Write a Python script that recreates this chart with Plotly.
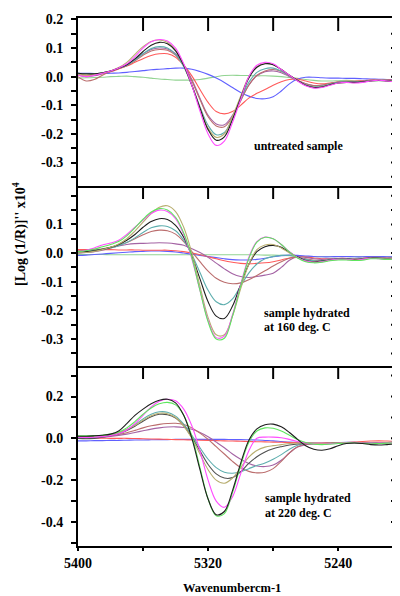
import plotly.graph_objects as go

# ---------------- data ----------------
WAVENUMBER = [5400, 5395, 5390, 5385, 5380, 5375, 5370, 5365, 5360, 5355, 5350, 5345, 5340,
              5335, 5330, 5325, 5320, 5315, 5310, 5305, 5300, 5295, 5290, 5285, 5280, 5275,
              5270, 5265, 5260, 5255, 5250, 5245, 5240, 5235, 5230, 5225, 5220, 5215, 5210,
              5205, 5200]

# Panel 1: untreated sample
P1_MAGENTA = [0.005, 0.0, 0.005, 0.012, 0.02, 0.03, 0.045, 0.07, 0.1, 0.122, 0.13, 0.125, 0.1,
              0.045, -0.03, -0.12, -0.2, -0.24, -0.225, -0.16, -0.08, 0.0, 0.04, 0.05, 0.045, 0.025,
              0.005, -0.015, -0.032, -0.04, -0.038, -0.03, -0.022, -0.02, -0.022, -0.02, -0.015,
              -0.012, -0.015, -0.018, -0.02]
P1_BLACK = [0.012, 0.01, 0.01, 0.014, 0.02, 0.03, 0.042, 0.062, 0.088, 0.11, 0.12, 0.115, 0.09,
            0.04, -0.03, -0.11, -0.185, -0.222, -0.21, -0.15, -0.075, -0.005, 0.033, 0.045, 0.042,
            0.025, 0.005, -0.013, -0.03, -0.038, -0.036, -0.028, -0.022, -0.02, -0.02, -0.018,
            -0.015, -0.013, -0.015, -0.017, -0.018]
P1_OLIVE = [0.008, 0.006, 0.008, 0.013, 0.02, 0.032, 0.05, 0.078, 0.105, 0.123, 0.128, 0.12, 0.093,
            0.04, -0.03, -0.11, -0.18, -0.212, -0.2, -0.14, -0.068, 0.0, 0.035, 0.046, 0.042, 0.025,
            0.005, -0.014, -0.03, -0.037, -0.035, -0.028, -0.022, -0.02, -0.021, -0.018, -0.014,
            -0.012, -0.014, -0.016, -0.017]
P1_TEAL = [0.012, 0.01, 0.01, 0.014, 0.02, 0.03, 0.04, 0.058, 0.08, 0.098, 0.105, 0.1, 0.078,
           0.035, -0.03, -0.105, -0.17, -0.203, -0.195, -0.145, -0.08, -0.02, 0.015, 0.028, 0.03,
           0.02, 0.003, -0.014, -0.028, -0.035, -0.033, -0.026, -0.02, -0.018, -0.019, -0.017,
           -0.014, -0.012, -0.013, -0.015, -0.016]
P1_MAROON = [0.0, -0.015, -0.01, 0.005, 0.018, 0.028, 0.038, 0.055, 0.075, 0.09, 0.095, 0.092,
             0.075, 0.038, -0.015, -0.08, -0.14, -0.172, -0.175, -0.14, -0.085, -0.03, 0.005, 0.02,
             0.025, 0.018, 0.003, -0.012, -0.025, -0.032, -0.03, -0.024, -0.02, -0.018, -0.019,
             -0.016, -0.013, -0.011, -0.012, -0.014, -0.015]
P1_PURPLE = [0.005, 0.0, 0.003, 0.01, 0.018, 0.03, 0.042, 0.06, 0.08, 0.095, 0.1, 0.097, 0.08,
             0.042, -0.01, -0.075, -0.135, -0.165, -0.168, -0.135, -0.082, -0.03, 0.003, 0.017,
             0.02, 0.014, 0.0, -0.013, -0.025, -0.031, -0.03, -0.024, -0.019, -0.017, -0.018,
             -0.016, -0.013, -0.011, -0.012, -0.014, -0.015]
P1_RED = [0.008, 0.005, 0.006, 0.01, 0.017, 0.027, 0.037, 0.05, 0.063, 0.074, 0.08, 0.08, 0.068,
          0.04, 0.003, -0.045, -0.09, -0.122, -0.13, -0.122, -0.1, -0.075, -0.058, -0.045, -0.03,
          -0.018, -0.01, -0.008, -0.015, -0.022, -0.025, -0.022, -0.018, -0.016, -0.016, -0.014,
          -0.012, -0.01, -0.011, -0.013, -0.014]
P1_BLUE = [0.012, 0.012, 0.011, 0.011, 0.012, 0.013, 0.015, 0.018, 0.021, 0.024, 0.026, 0.028,
           0.03, 0.03, 0.026, 0.018, 0.008, -0.005, -0.02, -0.038, -0.055, -0.068, -0.076, -0.077,
           -0.07, -0.05, -0.025, -0.008, -0.002, -0.002, -0.004, -0.005, -0.005, -0.006, -0.006,
           -0.007, -0.008, -0.009, -0.01, -0.011, -0.012]
P1_GREEN = [-0.005, -0.004, -0.003, -0.002, 0.0, 0.001, 0.002, 0.0, -0.002, -0.005, -0.008, -0.01,
            -0.012, -0.012, -0.012, -0.01, -0.005, 0.0, 0.004, 0.005, 0.004, 0.004, 0.003, 0.003,
            0.002, 0.0, -0.003, -0.006, -0.01, -0.013, -0.015, -0.015, -0.014, -0.013, -0.014,
            -0.015, -0.015, -0.014, -0.015, -0.017, -0.018]

# Panel 2: sample hydrated at 160 deg. C
P2_MAGENTA = [0.005, 0.01, 0.018, 0.028, 0.035, 0.045, 0.065, 0.09, 0.115, 0.138, 0.15, 0.145,
              0.12, 0.065, -0.02, -0.13, -0.235, -0.295, -0.29, -0.215, -0.11, -0.015, 0.04, 0.056,
              0.05, 0.03, 0.005, -0.015, -0.028, -0.032, -0.03, -0.025, -0.022, -0.022, -0.025,
              -0.022, -0.018, -0.02, -0.022, -0.02, -0.018]
P2_LIME = [0.005, 0.008, 0.014, 0.022, 0.03, 0.04, 0.06, 0.088, 0.118, 0.143, 0.155, 0.15, 0.125,
           0.07, -0.015, -0.13, -0.24, -0.3, -0.297, -0.22, -0.115, -0.02, 0.038, 0.055, 0.05, 0.03,
           0.004, -0.017, -0.03, -0.034, -0.032, -0.027, -0.024, -0.024, -0.026, -0.025, -0.02,
           -0.02, -0.022, -0.02, -0.018]
P2_OLIVE = [0.0, 0.002, 0.006, 0.012, 0.02, 0.032, 0.05, 0.077, 0.108, 0.138, 0.16, 0.165, 0.145,
            0.09, 0.0, -0.115, -0.225, -0.285, -0.285, -0.22, -0.125, -0.04, 0.012, 0.028, 0.03,
            0.018, 0.0, -0.016, -0.028, -0.032, -0.03, -0.025, -0.022, -0.022, -0.024, -0.022,
            -0.018, -0.019, -0.021, -0.019, -0.017]
P2_BLACK = [0.005, 0.005, 0.008, 0.013, 0.02, 0.03, 0.045, 0.065, 0.09, 0.11, 0.12, 0.117, 0.097,
            0.055, -0.01, -0.09, -0.17, -0.22, -0.228, -0.185, -0.11, -0.04, 0.005, 0.022, 0.027,
            0.02, 0.003, -0.014, -0.026, -0.03, -0.028, -0.024, -0.021, -0.021, -0.023, -0.021,
            -0.017, -0.018, -0.02, -0.018, -0.016]
P2_TEAL = [0.005, 0.006, 0.009, 0.013, 0.018, 0.026, 0.037, 0.053, 0.072, 0.088, 0.095, 0.093,
           0.078, 0.045, -0.005, -0.068, -0.13, -0.17, -0.18, -0.16, -0.115, -0.07, -0.038, -0.02,
           -0.012, -0.008, -0.008, -0.014, -0.022, -0.027, -0.027, -0.023, -0.02, -0.02, -0.022,
           -0.02, -0.017, -0.017, -0.019, -0.018, -0.016]
P2_MAROON = [0.008, 0.01, 0.012, 0.015, 0.02, 0.027, 0.037, 0.05, 0.064, 0.075, 0.08, 0.078, 0.066,
             0.04, 0.005, -0.03, -0.063, -0.088, -0.102, -0.107, -0.104, -0.093, -0.078, -0.062,
             -0.045, -0.03, -0.018, -0.015, -0.02, -0.025, -0.026, -0.023, -0.02, -0.02, -0.021,
             -0.019, -0.016, -0.016, -0.018, -0.017, -0.015]
P2_PURPLE = [0.0, 0.002, 0.005, 0.01, 0.018, 0.025, 0.03, 0.033, 0.034, 0.035, 0.036, 0.035, 0.032,
             0.027, 0.015, 0.002, -0.015, -0.035, -0.055, -0.072, -0.082, -0.085, -0.082, -0.077,
             -0.07, -0.05, -0.025, -0.012, -0.015, -0.02, -0.022, -0.02, -0.018, -0.018, -0.02,
             -0.018, -0.015, -0.015, -0.017, -0.016, -0.014]
P2_RED = [0.012, 0.012, 0.012, 0.012, 0.012, 0.011, 0.011, 0.011, 0.01, 0.01, 0.01, 0.01, 0.008,
          0.005, 0.0, -0.006, -0.013, -0.02, -0.027, -0.032, -0.036, -0.037, -0.036, -0.034, -0.03,
          -0.024, -0.017, -0.013, -0.014, -0.017, -0.02, -0.02, -0.02, -0.02, -0.021, -0.02,
          -0.018, -0.017, -0.018, -0.017, -0.016]
P2_BLUE = [-0.008, -0.007, -0.005, -0.003, -0.001, 0.001, 0.003, 0.005, 0.006, 0.007, 0.007, 0.006,
           0.004, 0.0, -0.004, -0.008, -0.012, -0.016, -0.02, -0.023, -0.024, -0.024, -0.022,
           -0.018, -0.013, -0.009, -0.007, -0.008, -0.01, -0.012, -0.013, -0.013, -0.012, -0.012,
           -0.013, -0.013, -0.012, -0.012, -0.013, -0.013, -0.012]
P2_GREEN = [-0.005, -0.005, -0.005, -0.005, -0.006, -0.006, -0.006, -0.006, -0.006, -0.006,
            -0.006, -0.006, -0.006, -0.006, -0.006, -0.006, -0.006, -0.006, -0.006, -0.006,
            -0.006, -0.006, -0.006, -0.007, -0.007, -0.008, -0.009, -0.01, -0.012, -0.013,
            -0.013, -0.013, -0.012, -0.012, -0.013, -0.013, -0.012, -0.012, -0.013, -0.013, -0.012]

# Panel 3: sample hydrated at 220 deg. C
P3_BLACK = [0.01, 0.01, 0.012, 0.015, 0.02, 0.035, 0.07, 0.11, 0.14, 0.165, 0.182, 0.187, 0.17,
            0.11, 0.0, -0.15, -0.29, -0.365, -0.35, -0.25, -0.12, -0.01, 0.045, 0.065, 0.068,
            0.055, 0.028, -0.005, -0.035, -0.052, -0.057, -0.05, -0.035, -0.025, -0.022, -0.025,
            -0.03, -0.032, -0.03, -0.027, -0.025]
P3_LIME = [0.012, 0.012, 0.013, 0.015, 0.02, 0.03, 0.05, 0.08, 0.115, 0.145, 0.165, 0.172, 0.16,
           0.11, 0.01, -0.14, -0.29, -0.37, -0.36, -0.26, -0.13, -0.02, 0.035, 0.05, 0.048, 0.035,
           0.015, -0.005, -0.02, -0.028, -0.03, -0.028, -0.025, -0.022, -0.022, -0.024, -0.026,
           -0.025, -0.023, -0.022, -0.022]
P3_MAGENTA = [0.005, 0.004, 0.005, 0.008, 0.013, 0.022, 0.04, 0.07, 0.11, 0.15, 0.177, 0.187,
              0.18, 0.14, 0.06, -0.06, -0.2, -0.3, -0.33, -0.28, -0.17, -0.06, 0.0, 0.006, 0.006,
              0.003, -0.005, -0.015, -0.022, -0.027, -0.028, -0.026, -0.024, -0.022, -0.022,
              -0.023, -0.024, -0.023, -0.022, -0.021, -0.02]
P3_OLIVE = [0.01, 0.008, 0.01, 0.013, 0.018, 0.027, 0.042, 0.062, 0.087, 0.108, 0.12, 0.118, 0.1,
            0.06, 0.0, -0.075, -0.15, -0.2, -0.215, -0.19, -0.14, -0.09, -0.058, -0.042, -0.035,
            -0.03, -0.025, -0.022, -0.022, -0.024, -0.025, -0.024, -0.022, -0.02, -0.02, -0.022,
            -0.024, -0.023, -0.021, -0.02, -0.02]
P3_GRAY = [0.0, -0.002, 0.0, 0.005, 0.012, 0.022, 0.038, 0.058, 0.082, 0.103, 0.115, 0.113, 0.097,
           0.06, 0.005, -0.06, -0.125, -0.17, -0.19, -0.188, -0.16, -0.12, -0.088, -0.065, -0.05,
           -0.04, -0.032, -0.027, -0.025, -0.026, -0.027, -0.025, -0.023, -0.021, -0.021, -0.023,
           -0.025, -0.024, -0.022, -0.021, -0.021]
P3_TEAL = [0.005, 0.004, 0.006, 0.01, 0.016, 0.026, 0.042, 0.065, 0.093, 0.115, 0.127, 0.125,
           0.106, 0.068, 0.015, -0.045, -0.1, -0.14, -0.162, -0.167, -0.16, -0.145, -0.13, -0.118,
           -0.1, -0.078, -0.052, -0.033, -0.025, -0.024, -0.025, -0.024, -0.022, -0.02, -0.02,
           -0.022, -0.023, -0.022, -0.02, -0.019, -0.019]
P3_MAROON = [0.005, 0.004, 0.005, 0.008, 0.012, 0.018, 0.027, 0.038, 0.05, 0.06, 0.067, 0.071,
             0.072, 0.066, 0.05, 0.025, -0.005, -0.04, -0.075, -0.11, -0.14, -0.158, -0.165,
             -0.162, -0.145, -0.11, -0.07, -0.04, -0.028, -0.025, -0.025, -0.024, -0.022, -0.02,
             -0.02, -0.021, -0.022, -0.021, -0.02, -0.019, -0.019]
P3_PURPLE = [0.0, 0.0, 0.002, 0.005, 0.009, 0.014, 0.02, 0.028, 0.036, 0.044, 0.05, 0.054, 0.055,
             0.052, 0.043, 0.028, 0.008, -0.018, -0.045, -0.075, -0.1, -0.12, -0.132, -0.135,
             -0.128, -0.105, -0.07, -0.042, -0.03, -0.026, -0.025, -0.024, -0.022, -0.02, -0.02,
             -0.021, -0.022, -0.021, -0.02, -0.019, -0.019]
P3_RED = [0.002, 0.002, 0.001, 0.001, 0.0, 0.0, 0.0, -0.001, -0.002, -0.003, -0.004, -0.005,
          -0.006, -0.007, -0.008, -0.009, -0.01, -0.011, -0.012, -0.013, -0.014, -0.015, -0.016,
          -0.017, -0.018, -0.019, -0.02, -0.021, -0.022, -0.022, -0.022, -0.021, -0.02, -0.02,
          -0.018, -0.015, -0.013, -0.012, -0.013, -0.014, -0.015]
P3_BLUE = [-0.012, -0.012, -0.011, -0.011, -0.01, -0.01, -0.009, -0.008, -0.008, -0.007, -0.006,
           -0.006, -0.005, -0.005, -0.005, -0.005, -0.005, -0.005, -0.005, -0.006, -0.006, -0.007,
           -0.008, -0.01, -0.012, -0.015, -0.018, -0.02, -0.021, -0.022, -0.022, -0.021, -0.02,
           -0.019, -0.019, -0.02, -0.021, -0.021, -0.02, -0.02, -0.02]

# tick labels / tick positions
P1_TICKVALS = [0.2, 0.1, 0.0, -0.1, -0.2, -0.3]
P1_TICKTEXT = ["0.2", "0.1", "0.0", "-0.1", "-0.2", "-0.3"]
P2_TICKVALS = [0.1, 0.0, -0.1, -0.2, -0.3]
P2_TICKTEXT = ["0.1", "0.0", "-0.1", "-0.2", "-0.3"]
P3_TICKVALS = [0.2, 0.0, -0.2, -0.4]
P3_TICKTEXT = ["0.2", "0.0", "-0.2", "-0.4"]
X_TICKVALS = [5400, 5320, 5240]
X_TICKTEXT = ["5400", "5320", "5240"]
TOP_TICKS = [5360, 5320, 5280, 5240]
P1_RIGHT_TICKS = [0.15, 0.1, 0.05, 0.0, -0.05, -0.1, -0.15, -0.2, -0.25, -0.3, -0.35]
P2_RIGHT_TICKS = [0.2, 0.15, 0.1, 0.05, 0.0, -0.05, -0.1, -0.15, -0.2, -0.25, -0.3, -0.35]
P3_RIGHT_TICKS = [0.3, 0.2, 0.1, 0.0, -0.1, -0.2, -0.3, -0.4]

PANEL_LABELS = [["untreated sample"],
                ["sample hydrated", "at 160 deg. C"],
                ["sample hydrated", "at 220 deg. C"]]
X_TITLE = "Wavenumbercm-1"
Y_TITLE = "[Log (1/R)]'' x10<sup>4</sup>"

# ---------------- styling ----------------
C = dict(black="#1e1e1e", gray="#505050", red="#ff5a5a", lime="#5ee65e", pale="#92d492",
         blue="#6060ff", teal="#5eaeae", magenta="#ff4dff", olive="#b8ae70",
         maroon="#bb6e6e", purple="#a463a4")

panels = [
    [(P1_GREEN, "pale"), (P1_BLUE, "blue"), (P1_RED, "red"), (P1_PURPLE, "purple"),
     (P1_MAROON, "maroon"), (P1_TEAL, "teal"), (P1_OLIVE, "olive"), (P1_BLACK, "black"),
     (P1_MAGENTA, "magenta")],
    [(P2_GREEN, "pale"), (P2_BLUE, "blue"), (P2_RED, "red"), (P2_PURPLE, "purple"),
     (P2_MAROON, "maroon"), (P2_TEAL, "teal"), (P2_BLACK, "black"), (P2_OLIVE, "olive"),
     (P2_MAGENTA, "magenta"), (P2_LIME, "lime")],
    [(P3_BLUE, "blue"), (P3_RED, "red"), (P3_PURPLE, "purple"), (P3_MAROON, "maroon"),
     (P3_TEAL, "teal"), (P3_GRAY, "gray"), (P3_OLIVE, "olive"), (P3_MAGENTA, "magenta"),
     (P3_LIME, "lime"), (P3_BLACK, "black")],
]
right_ticks = [P1_RIGHT_TICKS, P2_RIGHT_TICKS, P3_RIGHT_TICKS]

PAGE_OFF = 8  # default body margin of the html page
W, H = 400 - PAGE_OFF, 596 - PAGE_OFF
ML, MR, MT, MB = 78 - PAGE_OFF, 0, 18 - PAGE_OFF, 50
PW, PH = W - ML - MR, H - MT - MB
B1, B2 = 0.3409, 0.6818
DOMAINS = [[B2, 1.0], [B1, B2], [0.0, B1]]
YRANGES = [[-0.382, 0.205], [-0.394, 0.234], [-0.515, 0.346]]
XRANGE = [5400, 5202]
FONT = "Liberation Serif, Times New Roman, serif"
TICKFONT = dict(family=FONT, size=14, color="black", weight="bold")

fig = go.Figure()
for i, series in enumerate(panels):
    xa = "x" if i == 0 else f"x{i+1}"
    ya = "y" if i == 0 else f"y{i+1}"
    for vals, col in series:
        fig.add_trace(go.Scatter(x=WAVENUMBER, y=vals, mode="lines", xaxis=xa, yaxis=ya,
                                 line=dict(color=C[col], width=1.1, shape="spline", smoothing=1.0),
                                 showlegend=False, hoverinfo="skip"))

tickvals = [P1_TICKVALS, P2_TICKVALS, P3_TICKVALS]
ticktext = [P1_TICKTEXT, P2_TICKTEXT, P3_TICKTEXT]
minor_dt = [0.05, 0.05, 0.1]
lay = {}
shapes = []
for i in range(3):
    sx = "" if i == 0 else str(i + 1)
    lay[f"xaxis{sx}"] = dict(
        domain=[0, 1], anchor=f"y{sx}", range=XRANGE, showline=True, linecolor="black",
        linewidth=2, mirror=(i == 0), showgrid=False, zeroline=False,
        ticks="outside" if i == 2 else "", ticklen=3, tickwidth=2, tickcolor="black",
        tickvals=X_TICKVALS, ticktext=X_TICKTEXT, showticklabels=(i == 2),
        tickfont=TICKFONT,
        minor=dict(dtick=40, tick0=5400, ticks="outside" if i == 2 else "", ticklen=3,
                   tickwidth=2, tickcolor="black", showgrid=False),
    )
    lay[f"yaxis{sx}"] = dict(
        domain=DOMAINS[i], anchor=f"x{sx}", range=YRANGES[i], showline=True, linecolor="black",
        linewidth=2, mirror=False, showgrid=False, zeroline=False, ticks="outside", ticklen=5,
        tickwidth=2, tickcolor="black", tickvals=tickvals[i], ticktext=ticktext[i],
        tickfont=TICKFONT, ticklabelstandoff=5,
        minor=dict(dtick=minor_dt[i], tick0=0, ticks="outside", ticklen=5, tickwidth=2,
                   tickcolor="black", showgrid=False),
    )
    panel_h = (DOMAINS[i][1] - DOMAINS[i][0]) * PH
    # inward ticks along the top edge of each panel
    for t in TOP_TICKS:
        shapes.append(dict(type="line", xref=f"x{sx}", yref=f"y{sx} domain", x0=t, x1=t,
                           y0=1, y1=1 - 13 / panel_h, line=dict(color="black", width=2)))
    # inward ticks along the right edge of each panel
    for t in right_ticks[i]:
        shapes.append(dict(type="line", xref=f"x{sx} domain", yref=f"y{sx}", x0=1 - 9 / PW,
                           x1=1, y0=t, y1=t, line=dict(color="black", width=2)))


def px2paper(px, py):
    """reference-picture pixel -> paper coords"""
    return (px - PAGE_OFF - ML) / PW, (H - MB - (py - PAGE_OFF)) / PH


ann = []
label_pos = [[(252, 146)], [(262, 313), (262, 327)], [(263, 498), (263, 513)]]
for lines, poss in zip(PANEL_LABELS, label_pos):
    for txt, (px, py) in zip(lines, poss):
        xp, yp = px2paper(px, py)
        ann.append(dict(text=txt, x=xp, y=yp, xref="paper", yref="paper", xanchor="left",
                        yanchor="middle", showarrow=False,
                        font=dict(family=FONT, size=12, color="black", weight="bold")))
xp, yp = px2paper(232, 588)
ann.append(dict(text=X_TITLE, x=xp, y=yp, xref="paper", yref="paper", xanchor="center",
                yanchor="middle", showarrow=False,
                font=dict(family=FONT, size=12.5, color="black", weight="bold")))
xp, yp = px2paper(20, 234)
ann.append(dict(text=Y_TITLE, x=xp, y=yp, xref="paper", yref="paper", xanchor="center",
                yanchor="middle", showarrow=False, textangle=-90,
                font=dict(family=FONT, size=14, color="black", weight="bold")))

fig.update_layout(width=W, height=H, margin=dict(l=ML, r=MR, t=MT, b=MB),
                  paper_bgcolor="white", plot_bgcolor="white", showlegend=False,
                  annotations=ann, shapes=shapes, **lay)
fig.write_html("out.html")
